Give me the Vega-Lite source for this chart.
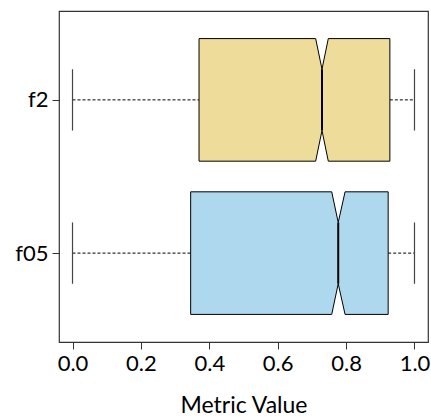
{
  "$schema": "https://vega.github.io/schema/vega-lite/v6.json",
  "autosize": "none",
  "width": 369,
  "height": 331,
  "padding": {"left": 59, "top": 11, "right": 3, "bottom": 77},
  "background": "white",
  "config": {
    "view": {"stroke": "#333333", "strokeWidth": 1.2},
    "font": "Lato",
    "axis": {"grid": false, "domain": false, "tickColor": "#333333", "tickSize": 7, "labelFont": "Lato", "labelFontSize": 22, "labelColor": "black", "titleFont": "Lato", "titleFontSize": 23, "titleFontWeight": "normal", "titleColor": "black"}
  },
  "data": {"values": [
    {"group": "f2", "pos": 2, "lo": 0.0, "q1": 0.370, "nl": 0.711, "med": 0.7295, "nr": 0.748, "q3": 0.928, "hi": 1.0},
    {"group": "f05", "pos": 1, "lo": 0.0, "q1": 0.3455, "nl": 0.758, "med": 0.777, "nr": 0.797, "q3": 0.923, "hi": 1.0}
  ]},
  "transform": [
    {"calculate": "datum.pos - 0.2", "as": "capLo"},
    {"calculate": "datum.pos + 0.2", "as": "capHi"},
    {"calculate": "datum.pos - 0.4", "as": "boxLo"},
    {"calculate": "datum.pos + 0.4", "as": "boxHi"}
  ],
  "layer": [
    {
      "mark": {"type": "rule", "color": "black", "strokeWidth": 1, "strokeDash": [3, 2]},
      "encoding": {
        "x": {"field": "lo", "type": "quantitative", "scale": {"domain": [-0.0395, 1.0395], "nice": false, "zero": false},
              "axis": {"values": [0, 0.2, 0.4, 0.6, 0.8, 1.0], "format": ".1f", "title": "Metric Value", "labelPadding": 4, "titlePadding": 20}},
        "x2": {"field": "q1"},
        "y": {"field": "pos", "type": "quantitative", "scale": {"domain": [0.42, 2.58], "nice": false, "zero": false},
              "axis": {"values": [1, 2], "labelExpr": "datum.value == 2 ? 'f2' : 'f05'", "title": null, "labelPadding": 4}}
      }
    },
    {
      "mark": {"type": "rule", "color": "black", "strokeWidth": 1, "strokeDash": [3, 2]},
      "encoding": {
        "x": {"field": "q3", "type": "quantitative"},
        "x2": {"field": "hi"},
        "y": {"field": "pos", "type": "quantitative"}
      }
    },
    {
      "mark": {"type": "rule", "color": "#444444", "strokeWidth": 1.2},
      "encoding": {
        "x": {"field": "lo", "type": "quantitative"},
        "y": {"field": "capLo", "type": "quantitative"},
        "y2": {"field": "capHi"}
      }
    },
    {
      "mark": {"type": "rule", "color": "#444444", "strokeWidth": 1.2},
      "encoding": {
        "x": {"field": "hi", "type": "quantitative"},
        "y": {"field": "capLo", "type": "quantitative"},
        "y2": {"field": "capHi"}
      }
    },
    {
      "transform": [
        {"fold": ["q1", "nl", "med", "nr", "q3"], "as": ["stat", "xv"]},
        {"calculate": "[1, -1]", "as": "side"},
        {"flatten": ["side"]},
        {"calculate": "indexof(['q1','nl','med','nr','q3'], datum.stat)", "as": "k"},
        {"calculate": "datum.side == 1 ? datum.k : 9 - datum.k", "as": "ord"},
        {"calculate": "datum.pos + datum.side * (datum.stat == 'med' ? 0.2 : 0.4)", "as": "yv"}
      ],
      "mark": {"type": "line", "stroke": "black", "strokeWidth": 1, "strokeJoin": "miter"},
      "encoding": {
        "x": {"field": "xv", "type": "quantitative"},
        "y": {"field": "yv", "type": "quantitative"},
        "order": {"field": "ord", "type": "quantitative"},
        "detail": {"field": "group"},
        "fill": {"field": "group", "type": "nominal", "scale": {"domain": ["f2", "f05"], "range": ["#EEDC9A", "#ADD8EE"]}, "legend": null}
      }
    },
    {
      "mark": {"type": "rule", "color": "black", "strokeWidth": 1},
      "encoding": {
        "x": {"field": "q1", "type": "quantitative"},
        "y": {"field": "boxLo", "type": "quantitative"},
        "y2": {"field": "boxHi"}
      }
    },
    {
      "mark": {"type": "rule", "color": "black", "strokeWidth": 2},
      "encoding": {
        "x": {"field": "med", "type": "quantitative"},
        "y": {"field": "capLo", "type": "quantitative"},
        "y2": {"field": "capHi"}
      }
    }
  ]
}
